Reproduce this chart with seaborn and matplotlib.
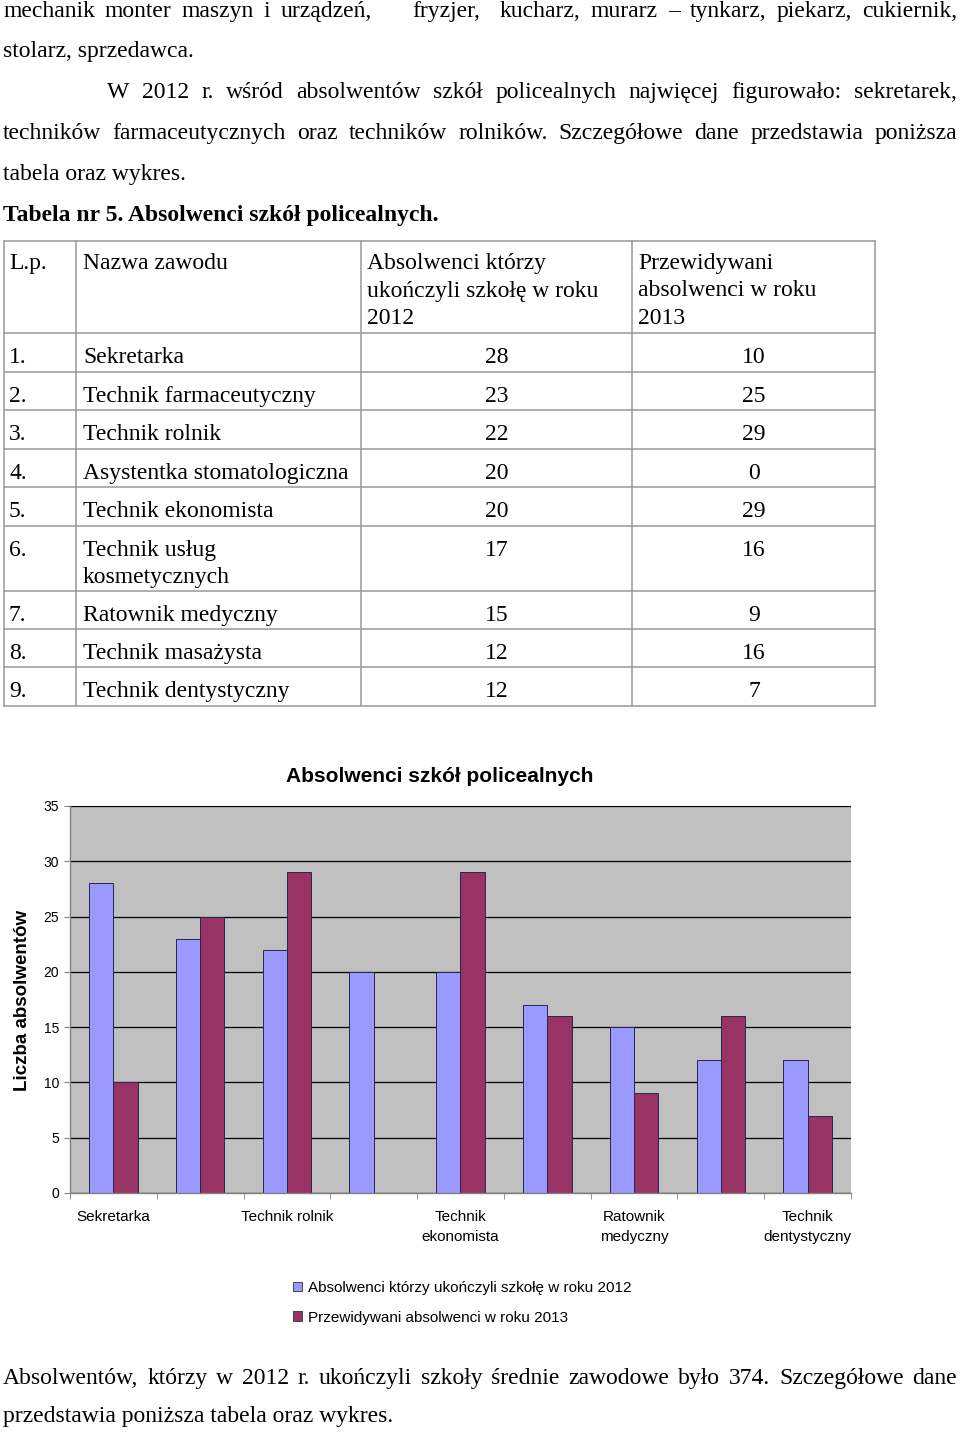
import matplotlib
matplotlib.use("Agg")
import matplotlib.pyplot as plt
from matplotlib.lines import Line2D
from matplotlib.patches import Patch
import seaborn as sns
import pandas as pd
import numpy as np

# ---------------- data ----------------
zawody = ["Sekretarka", "Technik farmaceutyczny", "Technik rolnik",
          "Asystentka stomatologiczna", "Technik ekonomista",
          "Technik usług kosmetycznych", "Ratownik medyczny",
          "Technik masażysta", "Technik dentystyczny"]
zawody_tabela = ["Sekretarka", "Technik farmaceutyczny", "Technik rolnik",
                 "Asystentka stomatologiczna", "Technik ekonomista",
                 "Technik usług\nkosmetycznych", "Ratownik medyczny",
                 "Technik masażysta", "Technik dentystyczny"]
absolwenci_2012 = [28, 23, 22, 20, 20, 17, 15, 12, 12]
przewidywani_2013 = [10, 25, 29, 0, 29, 16, 9, 16, 7]
etykiety_osi_x = ["Sekretarka", "", "Technik rolnik", "", "Technik\nekonomista",
                  "", "Ratownik\nmedyczny", "", "Technik\ndentystyczny"]
serie = ["Absolwenci którzy ukończyli szkołę w roku 2012",
         "Przewidywani absolwenci w roku 2013"]
naglowki_tabeli = ["L.p.", "Nazwa zawodu",
                   "Absolwenci którzy\nukończyli szkołę w roku\n2012",
                   "Przewidywani\nabsolwenci w roku\n2013"]
y_ticks = [0, 5, 10, 15, 20, 25, 30, 35]
kolory = ["#9999FF", "#993366"]

tekst_gora = [
    ("mechanik monter maszyn i urządzeń,    fryzjer,  kucharz, murarz – tynkarz, piekarz, cukiernik,", True, 3),
    ("stolarz, sprzedawca.", False, 3),
    ("W 2012 r. wśród absolwentów szkół policealnych najwięcej figurowało: sekretarek,", True, 107),
    ("techników farmaceutycznych oraz techników rolników. Szczegółowe dane przedstawia poniższa", True, 3),
    ("tabela oraz wykres.", False, 3),
]
tytul_tabeli = "Tabela nr 5. Absolwenci szkół policealnych."
tekst_dol = [
    ("Absolwentów, którzy w 2012 r. ukończyli szkoły średnie zawodowe było 374. Szczegółowe dane", True, 3),
    ("przedstawia poniższa tabela oraz wykres.", False, 3),
]

# ---------------- figure ----------------
W, H = 960, 1432
fig = plt.figure(figsize=(W / 100, H / 100), dpi=100)
fig.patch.set_facecolor("white")
renderer = fig.canvas.get_renderer()

SERIF = ["Liberation Serif", "DejaVu Serif"]
SANS = ["Liberation Sans", "DejaVu Sans"]
FS = 17


def px(x):
    return x / W


def py(y):
    return 1 - y / H


def stext(x, y, s, ha="left", weight="normal"):
    return fig.text(px(x), py(y), s, fontsize=FS, family=SERIF, weight=weight,
                    ha=ha, va="baseline")


def line_text(text, x0, y, weight="normal", justify=False, x1=957):
    if not justify:
        stext(x0, y, text, weight=weight)
        return
    words = text.split(" ")
    objs = [fig.text(0, 0, w, fontsize=FS, family=SERIF, weight=weight,
                     ha="left", va="baseline") for w in words]
    widths = [o.get_window_extent(renderer).width if w else 0.0
              for o, w in zip(objs, words)]
    gap = (x1 - x0 - sum(widths)) / (len(words) - 1)
    x = x0
    for o, w in zip(objs, widths):
        o.set_position((px(x), py(y)))
        x += w + gap


ys_top = [17, 57, 98, 139, 180]
for (t, j, x0), y in zip(tekst_gora, ys_top):
    line_text(t, x0, y, justify=j)
line_text(tytul_tabeli, 3, 221, weight="bold")
for (t, j, x0), y in zip(tekst_dol, [1384, 1422]):
    line_text(t, x0, y, justify=j)

# ---------------- table ----------------
col_x = [4, 76, 361, 632, 875]
row_y = [241, 333, 372, 410, 449, 487, 526, 591, 629, 667, 706]
lc = "#999999"
for y in row_y:
    fig.add_artist(Line2D([px(col_x[0]), px(col_x[-1])], [py(y), py(y)],
                          transform=fig.transFigure, color=lc, lw=1.1))
for x in col_x:
    fig.add_artist(Line2D([px(x), px(x)], [py(row_y[0]), py(row_y[-1])],
                          transform=fig.transFigure, color=lc, lw=1.1))

LS = 27.5
head_x = [9, 83, 367, 638]
for hx, ht in zip(head_x, naglowki_tabeli):
    for k, ln in enumerate(ht.split("\n")):
        stext(hx, 269 + k * LS, ln)

for i, (nm, a, b) in enumerate(zip(zawody_tabela, absolwenci_2012, przewidywani_2013)):
    base = row_y[i + 1] + 30
    stext(9, base, f"{i + 1}.")
    for k, ln in enumerate(nm.split("\n")):
        stext(83, base + k * LS, ln)
    stext(497, base, str(a), ha="center")
    stext(754, base, str(b), ha="center")

# ---------------- chart ----------------
ax = fig.add_axes([px(70), py(1193), 781 / W, 387 / H])
df = pd.DataFrame({
    "zawod": zawody * 2,
    "liczba": absolwenci_2012 + przewidywani_2013,
    "seria": [serie[0]] * len(zawody) + [serie[1]] * len(zawody),
})
sns.barplot(data=df, x="zawod", y="liczba", hue="seria", order=zawody,
            hue_order=serie, palette=kolory, saturation=1, width=0.56,
            errorbar=None, edgecolor="#26264d", linewidth=0.7,
            legend=False, ax=ax)

ax.set_facecolor("#C0C0C0")
ax.set_xlim(-0.5, len(zawody) - 0.5)
ax.set_ylim(0, 35)
ax.set_yticks(y_ticks)
ax.yaxis.grid(True, color="black", lw=0.9)
ax.set_axisbelow(True)
for s in ["top", "right"]:
    ax.spines[s].set_visible(False)
for s in ["left", "bottom"]:
    ax.spines[s].set_color("#808080")
    ax.spines[s].set_linewidth(1)
ax.set_xlabel("")
ax.set_ylabel("")

ax.set_xticks(range(len(zawody)))
ax.set_xticklabels(etykiety_osi_x, fontsize=11, family=SANS, linespacing=1.5)
ax.set_xticks(np.arange(-0.5, len(zawody), 1), minor=True)
ax.tick_params(axis="x", which="major", length=0, pad=12.5)
ax.tick_params(axis="x", which="minor", length=4, color="#808080", direction="out")
ax.tick_params(axis="y", length=4, color="#808080", direction="out", pad=4,
               labelsize=10)
for lab in ax.get_yticklabels():
    lab.set_family(SANS)

fig.text(px(23), py(1000), "Liczba absolwentów", rotation=90, fontsize=13.5,
         weight="bold", family=SANS, ha="center", va="center")
fig.text(px(440), py(776), "Absolwenci szkół policealnych", fontsize=15,
         weight="bold", family=SANS, ha="center", va="center")

handles = [Patch(facecolor=c, edgecolor="#333333", lw=0.6) for c in kolory]
fig.legend(handles, serie, loc="upper left", bbox_to_anchor=(px(293), py(1281)),
           frameon=False, prop={"family": SANS, "size": 11},
           handlelength=0.6, handleheight=0.6, handletextpad=0.4,
           labelspacing=1.02, borderaxespad=0, borderpad=0)

fig.savefig("out.png", dpi=100, facecolor="white")
